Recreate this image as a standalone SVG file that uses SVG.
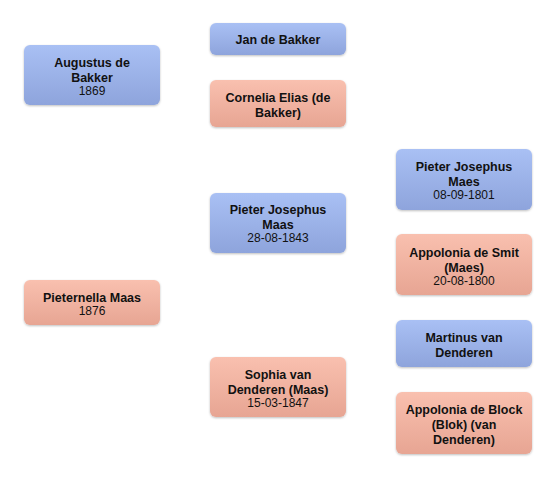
<svg xmlns="http://www.w3.org/2000/svg" width="556" height="480" viewBox="0 0 556 480">
<defs>
<linearGradient id="gm" x1="0" y1="0" x2="0" y2="1">
<stop offset="0" stop-color="#a9c0f4"/>
<stop offset="1" stop-color="#8ea4dc"/>
</linearGradient>
<linearGradient id="gf" x1="0" y1="0" x2="0" y2="1">
<stop offset="0" stop-color="#f9c0af"/>
<stop offset="1" stop-color="#e7a593"/>
</linearGradient>
<filter id="sh" x="-10%" y="-10%" width="120%" height="130%">
<feDropShadow dx="0" dy="1" stdDeviation="1" flood-color="#000" flood-opacity="0.25"/>
</filter>
<style>
.m{fill:url(#gm);filter:url(#sh)}
.f{fill:url(#gf);filter:url(#sh)}
.n{font-family:"Liberation Sans",Arial,sans-serif;font-weight:bold;font-size:12.5px;fill:#111;text-anchor:middle}
.d{font-family:"Liberation Sans",Arial,sans-serif;font-size:12px;fill:#111;text-anchor:middle}
</style>
</defs>
<rect width="556" height="480" fill="#fff"/>
<g id="connectors"></g>
<g id="augustus">
<rect class="m" x="24" y="45" width="136" height="60" rx="6"/>
<text class="n" x="92" y="67">Augustus de</text>
<text class="n" x="92" y="82">Bakker</text>
<text class="d" x="92" y="95">1869</text>
</g>
<g id="pieternella">
<rect class="f" x="24" y="280" width="136" height="45" rx="6"/>
<text class="n" x="92" y="302">Pieternella Maas</text>
<text class="d" x="92" y="315">1876</text>
</g>
<g id="jan">
<rect class="m" x="210" y="23" width="136" height="32" rx="6"/>
<text class="n" x="278" y="44">Jan de Bakker</text>
</g>
<g id="cornelia">
<rect class="f" x="210" y="80" width="136" height="47" rx="6"/>
<text class="n" x="278" y="102">Cornelia Elias (de</text>
<text class="n" x="278" y="117">Bakker)</text>
</g>
<g id="pieterMaas">
<rect class="m" x="210" y="193" width="136" height="60" rx="6"/>
<text class="n" x="278" y="214">Pieter Josephus</text>
<text class="n" x="278" y="229">Maas</text>
<text class="d" x="278" y="242">28-08-1843</text>
</g>
<g id="sophia">
<rect class="f" x="210" y="357" width="136" height="60" rx="6"/>
<text class="n" x="278" y="379">Sophia van</text>
<text class="n" x="278" y="394">Denderen (Maas)</text>
<text class="d" x="278" y="407">15-03-1847</text>
</g>
<g id="pieterMaes">
<rect class="m" x="396" y="149" width="136" height="61" rx="6"/>
<text class="n" x="464" y="171">Pieter Josephus</text>
<text class="n" x="464" y="186">Maes</text>
<text class="d" x="464" y="199">08-09-1801</text>
</g>
<g id="appoloniaSmit">
<rect class="f" x="396" y="234" width="136" height="61" rx="6"/>
<text class="n" x="464" y="257">Appolonia de Smit</text>
<text class="n" x="464" y="272">(Maes)</text>
<text class="d" x="464" y="285">20-08-1800</text>
</g>
<g id="martinus">
<rect class="m" x="396" y="320" width="136" height="47" rx="6"/>
<text class="n" x="464" y="342">Martinus van</text>
<text class="n" x="464" y="357">Denderen</text>
</g>
<g id="appoloniaBlock">
<rect class="f" x="396" y="392" width="136" height="62" rx="6"/>
<text class="n" x="464" y="414">Appolonia de Block</text>
<text class="n" x="464" y="429">(Blok) (van</text>
<text class="n" x="464" y="444">Denderen)</text>
</g>
</svg>
